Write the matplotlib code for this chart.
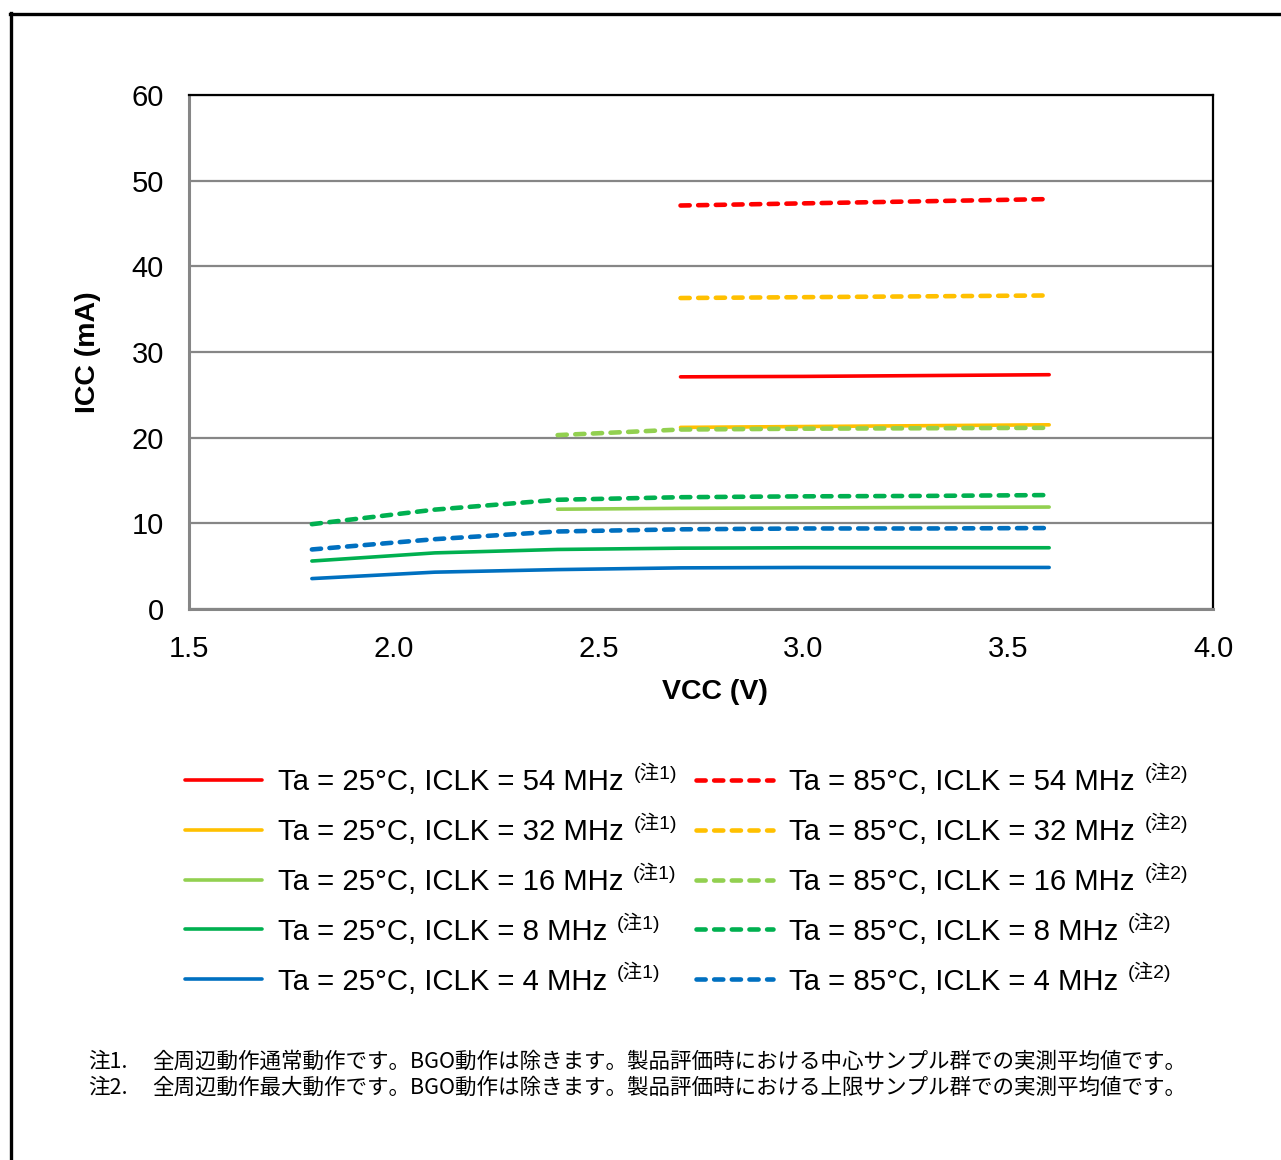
import matplotlib
matplotlib.use("Agg")
import matplotlib.pyplot as plt
from matplotlib.lines import Line2D

# ---------------- data ----------------
x_low = [1.8, 2.1, 2.4, 2.7, 3.0, 3.3, 3.6]
x_mid = [2.4, 2.7, 3.0, 3.3, 3.6]
x_high = [2.7, 3.0, 3.3, 3.6]

t25_54 = [27.1, 27.15, 27.25, 27.35]
t25_32 = [21.2, 21.3, 21.4, 21.5]
t25_16 = [11.65, 11.75, 11.8, 11.85, 11.9]
t25_8 = [5.6, 6.55, 6.95, 7.1, 7.15, 7.15, 7.15]
t25_4 = [3.55, 4.3, 4.6, 4.8, 4.85, 4.85, 4.85]

t85_54 = [47.1, 47.35, 47.6, 47.85]
t85_32 = [36.3, 36.4, 36.5, 36.6]
t85_16 = [20.3, 20.95, 21.05, 21.1, 21.15]
t85_8 = [9.9, 11.6, 12.75, 13.05, 13.15, 13.2, 13.3]
t85_4 = [6.95, 8.15, 9.05, 9.3, 9.4, 9.4, 9.45]

labels25 = ["Ta = 25°C, ICLK = 54 MHz", "Ta = 25°C, ICLK = 32 MHz",
            "Ta = 25°C, ICLK = 16 MHz", "Ta = 25°C, ICLK = 8 MHz",
            "Ta = 25°C, ICLK = 4 MHz"]
labels85 = ["Ta = 85°C, ICLK = 54 MHz", "Ta = 85°C, ICLK = 32 MHz",
            "Ta = 85°C, ICLK = 16 MHz", "Ta = 85°C, ICLK = 8 MHz",
            "Ta = 85°C, ICLK = 4 MHz"]
note25 = "(注1)"
note85 = "(注2)"

x_ticks = [1.5, 2.0, 2.5, 3.0, 3.5, 4.0]
y_ticks = [0, 10, 20, 30, 40, 50, 60]
x_label = "VCC (V)"
y_label = "ICC (mA)"
foot_marks = ["注1.", "注2."]
foot_texts = ["全周辺動作通常動作です。BGO動作は除きます。製品評価時における中心サンプル群での実測平均値です。",
              "全周辺動作最大動作です。BGO動作は除きます。製品評価時における上限サンプル群での実測平均値です。"]

colors = ["#FF0000", "#FFC000", "#92D050", "#00B050", "#0070C0"]

# ---------------- figure ----------------
W, H = 1281, 1160
fig = plt.figure(figsize=(W / 100, H / 100), dpi=100)
plt.rcParams['font.family'] = ['Liberation Sans', 'Noto Sans CJK JP']

ax = fig.add_axes([189 / W, 1 - 609 / H, 1024 / W, 514 / H])
ax.set_xlim(1.5, 4.0)
ax.set_ylim(0, 60)

xs25 = [x_high, x_high, x_mid, x_low, x_low]
ys25 = [t25_54, t25_32, t25_16, t25_8, t25_4]
xs85 = [x_high, x_high, x_mid, x_low, x_low]
ys85 = [t85_54, t85_32, t85_16, t85_8, t85_4]

h25, h85 = [], []
for xx, yy, c, lab in zip(xs25, ys25, colors, labels25):
    l, = ax.plot(xx, yy, color=c, lw=2.6, solid_capstyle='round', label=lab, zorder=3)
    h25.append(l)
for xx, yy, c, lab in zip(xs85, ys85, colors, labels85):
    l, = ax.plot(xx, yy, color=c, lw=3.3, dashes=(2.0, 1.85), dash_capstyle='round',
                 label=lab, zorder=3)
    h85.append(l)

ax.set_xticks(x_ticks)
ax.set_xticklabels([f"{v:.1f}" for v in x_ticks])
ax.set_yticks(y_ticks)
ax.tick_params(axis='both', length=0, labelsize=21)
ax.tick_params(axis='y', pad=18)
ax.tick_params(axis='x', pad=19)
ax.grid(axis='y', color='#868686', lw=1.6, zorder=1)
ax.set_axisbelow(True)

for s in ['top', 'right']:
    ax.spines[s].set_color('black')
    ax.spines[s].set_linewidth(1.6)
for s in ['left', 'bottom']:
    ax.spines[s].set_color('#868686')
    ax.spines[s].set_linewidth(2.2)

ax.set_xlabel(x_label, fontsize=20.5, fontweight='bold')
ax.set_ylabel(y_label, fontsize=20.5, fontweight='bold')
ax.xaxis.set_label_coords((715 - 189) / 1024, -(692 - 609) / 514)
ax.xaxis.label.set_va('center')
ax.yaxis.set_label_coords((88 - 189) / 1024, 0.5)
ax.yaxis.label.set_va('center')

# ---------------- legends ----------------
leg_kw = dict(frameon=False, fontsize=21.2, handlelength=2.6, handletextpad=0.55,
              labelspacing=0.74, borderpad=0, borderaxespad=0, loc='center left',
              bbox_transform=fig.transFigure)
leg1 = fig.legend(handles=h25, labels=labels25, bbox_to_anchor=(185 / W, 1 - 882 / H), **leg_kw)
leg2 = fig.legend(handles=h85, labels=labels85, bbox_to_anchor=(696 / W, 1 - 882 / H), **leg_kw)

fig.canvas.draw()
r = fig.canvas.get_renderer()
for leg, note in [(leg1, note25), (leg2, note85)]:
    for t in leg.get_texts():
        bb = t.get_window_extent(r)
        fig.text((bb.x1 + 10) / W, (bb.y0 + 0.22 * bb.height + 11) / H, note,
                 fontsize=14, family=['Liberation Sans', 'Noto Sans CJK JP'],
                 va='baseline', ha='left')

# ---------------- footnotes ----------------
for i, (m, t) in enumerate(zip(foot_marks, foot_texts)):
    y = 1 - (1062 + 26 * i) / H
    fig.text(88 / W, y, m, fontsize=15.5, family=['Noto Sans CJK JP'], va='center')
    fig.text(152 / W, y, t, fontsize=15.5, family=['Noto Sans CJK JP'], va='center')

# ---------------- outer frame ----------------
fig.add_artist(Line2D([10 / W, 1], [1 - 14 / H, 1 - 14 / H], transform=fig.transFigure,
                      color='black', lw=2.4))
fig.add_artist(Line2D([11 / W, 11 / W], [0, 1 - 13 / H], transform=fig.transFigure,
                      color='black', lw=2.4))

fig.savefig("out.png", dpi=100)
